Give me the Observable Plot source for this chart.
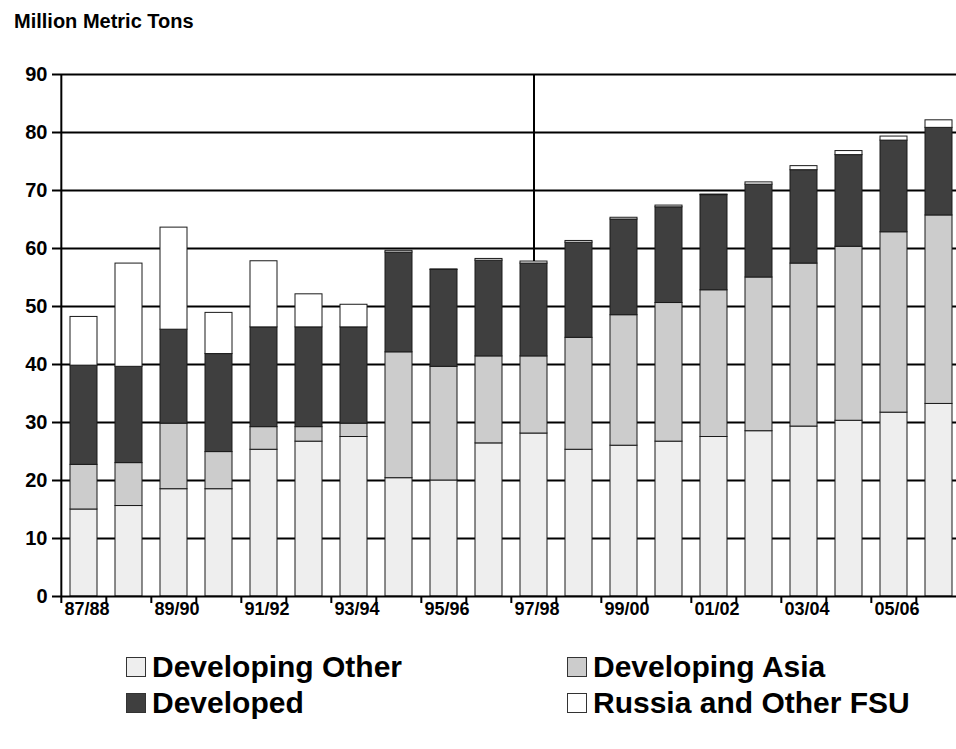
<!DOCTYPE html>
<html><head><meta charset="utf-8">
<script src="https://cdn.jsdelivr.net/npm/d3@7"></script>
<script src="https://cdn.jsdelivr.net/npm/@observablehq/plot@0.6"></script>
<style>
body{margin:0;background:#fff;font-family:"Liberation Sans",Arial,sans-serif;color:#000;}
#wrap{position:relative;width:956px;height:749px;overflow:hidden;}
#title{position:absolute;left:14px;top:10px;font-weight:bold;font-size:20px;z-index:2;}
#chart{position:absolute;left:0;top:0;z-index:1;}
.leg{position:absolute;font-weight:bold;font-size:30px;line-height:36px;display:flex;align-items:center;white-space:nowrap;z-index:2;}
.sw{width:20px;height:20px;border:1px solid #333;margin-right:6px;box-sizing:border-box;}
</style></head>
<body><div id="wrap"><div id="title">Million Metric Tons</div><div id="chart"></div></div>
<script>
const years = ["87/88","88/89","89/90","90/91","91/92","92/93","93/94","94/95","95/96","96/97",
               "97/98","98/99","99/00","00/01","01/02","02/03","03/04","04/05","05/06","06/07"];
const labelYears = ["87/88","89/90","91/92","93/94","95/96","97/98","99/00","01/02","03/04","05/06"];
const yTicks = [0,10,20,30,40,50,60,70,80,90];

const seriesNames = ["Developing Other","Developing Asia","Developed","Russia and Other FSU"];
const seriesColors = ["#eeeeee","#cccccc","#3f3f3f","#ffffff"];

const developingOther = [15.0,15.6,18.5,18.5,25.3,26.7,27.5,20.4,20.0,26.4,28.1,25.3,26.0,26.7,27.5,28.5,29.3,30.3,31.7,33.2];
const developingAsia  = [7.7,7.4,11.3,6.4,3.9,2.5,2.3,21.7,19.6,15.0,13.3,19.3,22.5,23.9,25.3,26.5,28.1,30.0,31.1,32.5];
const developed       = [17.1,16.6,16.2,16.9,17.2,17.2,16.6,17.2,16.7,16.5,16.0,16.4,16.5,16.5,16.4,16.0,16.1,15.8,15.8,15.1];
const russiaFSU       = [8.4,17.8,17.6,7.1,11.4,5.7,3.9,0.3,0.1,0.3,0.35,0.3,0.3,0.3,0.1,0.4,0.7,0.7,0.7,1.3];

const dividerYear = "97/98";

// legend layout: [series index, column, row]
const legendOrder = [[0,0,0],[1,1,0],[2,0,1],[3,1,1]];

const seriesValues = [developingOther, developingAsia, developed, russiaFSU];
const rows = years.flatMap((yr, i) => seriesNames.map((s, k) => ({year: yr, series: s, value: seriesValues[k][i]})));
const totals = years.map((yr, i) => ({year: yr, total: d3.sum(seriesValues, v => v[i])}));
const divider = totals.filter(d => d.year === dividerYear);
const yMax = yTicks[yTicks.length - 1];

const W = 956, H = 640, mL = 58, mR = -9, mT = 74, mB = 44;
const step = (W - mL - mR) / years.length;

const chart = Plot.plot({
  width: W, height: H,
  marginLeft: mL, marginRight: mR, marginTop: mT, marginBottom: mB,
  style: {fontFamily: "'Liberation Sans', Arial, sans-serif", fontWeight: "bold", fontSize: "18px", color: "#000", background: "transparent"},
  x: {domain: years, paddingInner: 0.39, paddingOuter: 0.195, axis: null},
  y: {domain: [0, yMax], axis: null},
  color: {domain: seriesNames, range: seriesColors},
  marks: [
    Plot.gridY({ticks: yTicks.slice(1), stroke: "#000", strokeOpacity: 1, strokeWidth: 2}),
    Plot.barY(rows, {x: "year", y: "value", fill: "series", order: seriesNames, stroke: "#1a1a1a", strokeWidth: 1}),
    Plot.ruleX(divider, {x: "year", y1: "total", y2: () => yMax, stroke: "#000", strokeWidth: 2}),
    Plot.ruleY([0], {stroke: "#000", strokeWidth: 2}),
    Plot.ruleX([years[0]], {dx: -step / 2, stroke: "#000", strokeWidth: 2}),
    Plot.axisY({ticks: yTicks, tickSize: 6, tickPadding: 5, strokeWidth: 2, label: null, fontSize: 20}),
    Plot.axisX({ticks: years, tickSize: 7, tickFormat: () => "", dx: -step / 2, strokeWidth: 2, label: null}),
    Plot.axisX({ticks: labelYears, tickSize: 0, tickPadding: 6, dx: 3, label: null, fontSize: 18})
  ]
});
document.getElementById("chart").appendChild(chart);

const wrap = document.getElementById("wrap");
const colX = [126, 567], rowY = [649, 685];
for (const [k, c, r] of legendOrder) {
  const el = document.createElement("div");
  el.className = "leg";
  el.style.left = colX[c] + "px";
  el.style.top = rowY[r] + "px";
  const sw = document.createElement("span");
  sw.className = "sw";
  sw.style.background = seriesColors[k];
  const tx = document.createElement("span");
  tx.textContent = seriesNames[k];
  el.appendChild(sw); el.appendChild(tx);
  wrap.appendChild(el);
}
</script>
</body></html>
